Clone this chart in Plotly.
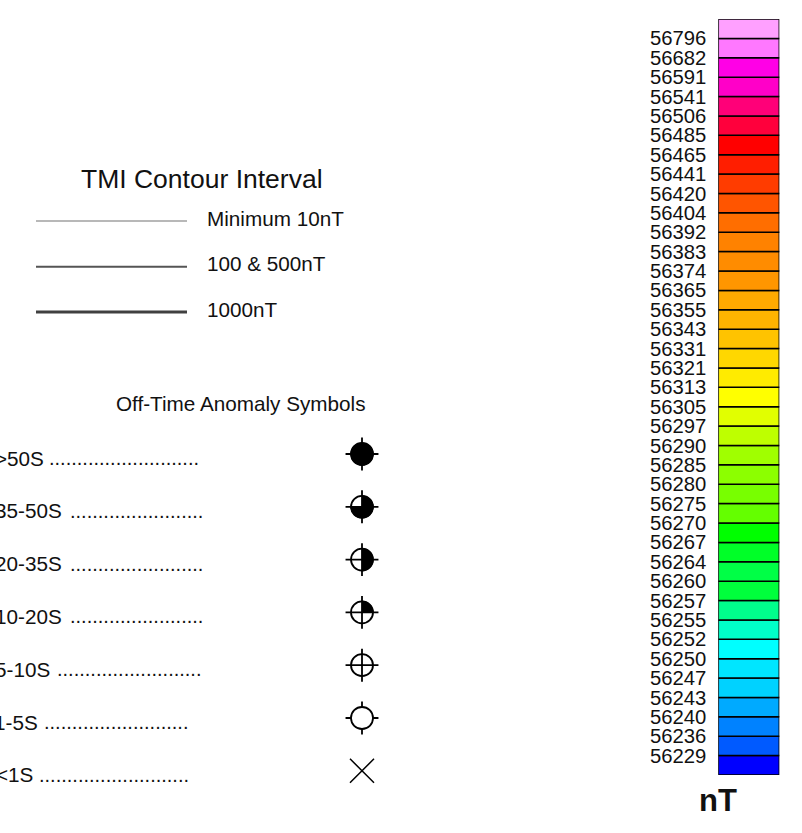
import numpy as np
import plotly.graph_objects as go

# ---------------- data ----------------
# colour-bar class boundaries (top to bottom, as printed)
bar_labels = ["56796", "56682", "56591", "56541", "56506", "56485", "56465", "56441",
              "56420", "56404", "56392", "56383", "56374", "56365", "56355", "56343",
              "56331", "56321", "56313", "56305", "56297", "56290", "56285", "56280",
              "56275", "56270", "56267", "56264", "56260", "56257", "56255", "56252",
              "56250", "56247", "56243", "56240", "56236", "56229"]
# colour of each class cell, top to bottom (one more cell than boundaries)
bar_colors = ["#FFA0FF", "#FF78FF", "#FF00E6", "#FF00C8", "#FF0078", "#FF003C",
              "#FF0000", "#FF1E00", "#FF3C00", "#FF5500", "#FF6E00", "#FF8200",
              "#FF8C00", "#FF9600", "#FFAA00", "#FFB400", "#FFC300", "#FFD700",
              "#FFEB00", "#FFFF00", "#E1FF00", "#BEFF00", "#A0FF00", "#8CFF00",
              "#78FF00", "#64FF00", "#00FF00", "#00FF28", "#00FF46", "#00FF3C",
              "#00FF8C", "#00FFC8", "#00FFFF", "#00E6FF", "#00D2FF", "#00AAFF",
              "#0082FF", "#005AFF", "#0000FF"]
bar_unit = "nT"

contour_title = "TMI Contour Interval"
contour_labels = ["Minimum 10nT", "100 &amp; 500nT", "1000nT"]
contour_widths = [1.3, 2.0, 3.0]
contour_colors = ["#A0A0A0", "#555555", "#404040"]

anomaly_title = "Off-Time Anomaly Symbols"
anomaly_labels = ["&gt;50S", "35-50S", "20-35S", "10-20S", "5-10S", "1-5S", "&lt;1S"]
anomaly_dots = [27, 24, 24, 24, 26, 26, 27]
anomaly_fill = [1.0, 0.75, 0.5, 0.25, 0.0, 0.0, None]   # None -> "x" symbol
anomaly_cross = ["full", "full", "full", "full", "full", "ticks", "none"]

# ---------------- layout constants ----------------
W, H = 802, 833
FONT = "Liberation Sans, Arial, Helvetica, sans-serif"
TXT = "#111111"
FS = 20.7

sym_x = 362
row_y0, row_dy = 454, 52.8
label_end_x = [45.5, 63.8, 63.8, 63.8, 52, 40, 35]      # right end of range label
dots_start_x = [47, 68, 68, 68, 54.6, 42, 37]           # left of dotted leader
sym_size, cross_size, r_fill = 22, 23.5, 11.6

cbar_top, cbar_bot = 19, 775
cbar_left, cbar_right = 718.3, 779.3

fig = go.Figure()

# ---- colour bar (stacked cells through its own axis) ----
n = len(bar_colors)
cells_bottom_up = bar_colors[::-1]
fig.add_trace(go.Bar(
    x=[0] * n, y=[1] * n, base=list(range(n)), width=1,
    marker=dict(color=cells_bottom_up, line=dict(color="#000000", width=1.5)),
    xaxis="x2", yaxis="y2", hoverinfo="skip", showlegend=False))

# ---- contour interval legend lines ----
line_y = [221, 266.7, 312]
for lab, w, c, yy in zip(contour_labels, contour_widths, contour_colors, line_y):
    fig.add_trace(go.Scatter(x=[36, 187], y=[yy, yy], mode="lines",
                             line=dict(color=c, width=w), showlegend=False,
                             hoverinfo="skip"))

# ---- anomaly symbols ----
rows = list(range(len(anomaly_labels)))
ys = [row_y0 + i * row_dy for i in rows]

# ticks-only crosses (drawn beneath a white circle)
tick_rows = [i for i in rows if anomaly_cross[i] == "ticks"]
fig.add_trace(go.Scatter(
    x=[sym_x] * len(tick_rows), y=[ys[i] for i in tick_rows], mode="markers",
    marker=dict(symbol="cross-thin", size=cross_size, line=dict(color="black", width=1.8)),
    showlegend=False, hoverinfo="skip"))

circ_rows = [i for i in rows if anomaly_fill[i] is not None]
fig.add_trace(go.Scatter(
    x=[sym_x] * len(circ_rows), y=[ys[i] for i in circ_rows], mode="markers",
    marker=dict(symbol="circle", size=sym_size, color="white",
                line=dict(color="black", width=1.8)),
    showlegend=False, hoverinfo="skip"))

# filled sectors, clockwise from 12 o'clock
for i in rows:
    f = anomaly_fill[i]
    if not f:
        continue
    th = np.linspace(0, 2 * np.pi * f, max(8, int(120 * f)))
    px = sym_x + r_fill * np.sin(th)
    py = ys[i] - r_fill * np.cos(th)
    if f < 1:
        px = np.concatenate([[sym_x], px, [sym_x]])
        py = np.concatenate([[ys[i]], py, [ys[i]]])
    fig.add_trace(go.Scatter(x=px, y=py, mode="lines", fill="toself",
                             fillcolor="black", line=dict(width=0, color="black"),
                             showlegend=False, hoverinfo="skip"))

full_rows = [i for i in rows if anomaly_cross[i] == "full"]
fig.add_trace(go.Scatter(
    x=[sym_x] * len(full_rows), y=[ys[i] for i in full_rows], mode="markers",
    marker=dict(symbol="cross-thin", size=cross_size, line=dict(color="black", width=1.8)),
    showlegend=False, hoverinfo="skip"))

x_rows = [i for i in rows if anomaly_fill[i] is None]
fig.add_trace(go.Scatter(
    x=[sym_x] * len(x_rows), y=[ys[i] for i in x_rows], mode="markers",
    marker=dict(symbol="x-thin", size=24, line=dict(color="black", width=1.5)),
    showlegend=False, hoverinfo="skip"))

# ---- texts ----
ann = []
ann.append(dict(x=202, y=179, text=contour_title, showarrow=False,
                font=dict(size=26.5, color=TXT, family=FONT), xanchor="center", yanchor="middle"))
for lab, yy in zip(contour_labels, line_y):
    ann.append(dict(x=205, y=yy - 3, text=lab, showarrow=False,
                    font=dict(size=FS, color=TXT, family=FONT), xanchor="left", yanchor="middle"))
ann.append(dict(x=240.5, y=403, text=anomaly_title, showarrow=False,
                font=dict(size=FS, color=TXT, family=FONT), xanchor="center", yanchor="middle"))
for i in rows:
    ann.append(dict(x=label_end_x[i], y=ys[i] + 4, text=anomaly_labels[i], showarrow=False,
                    font=dict(size=FS, color=TXT, family=FONT), xanchor="right", yanchor="middle"))
    ann.append(dict(x=dots_start_x[i], y=ys[i] + 4, text="." * anomaly_dots[i], showarrow=False,
                    font=dict(size=20, color=TXT, family=FONT), xanchor="left", yanchor="middle"))
ann.append(dict(x=718, y=800, text="<b>" + bar_unit + "</b>", showarrow=False,
                font=dict(size=31, color=TXT, family=FONT), xanchor="center", yanchor="middle"))

fig.update_layout(
    width=W, height=H, margin=dict(l=0, r=0, t=0, b=0),
    paper_bgcolor="white", plot_bgcolor="rgba(0,0,0,0)",
    showlegend=False, annotations=ann, barmode="overlay",
    xaxis=dict(range=[0, W], domain=[0, 1], visible=False, fixedrange=True),
    yaxis=dict(range=[H, 0], domain=[0, 1], visible=False, fixedrange=True),
    xaxis2=dict(range=[-0.5, 0.5], domain=[cbar_left / W, cbar_right / W],
                anchor="y2", visible=False, fixedrange=True),
    yaxis2=dict(range=[0, n], domain=[(H - cbar_bot) / H, (H - cbar_top) / H],
                anchor="x2", side="left", showgrid=False, zeroline=False, showline=False,
                ticks="", tickvals=list(range(1, n)), ticktext=bar_labels[::-1],
                ticklabelstandoff=11,
                tickfont=dict(size=20.3, color=TXT, family=FONT), fixedrange=True),
)

fig.write_html("out.html")
